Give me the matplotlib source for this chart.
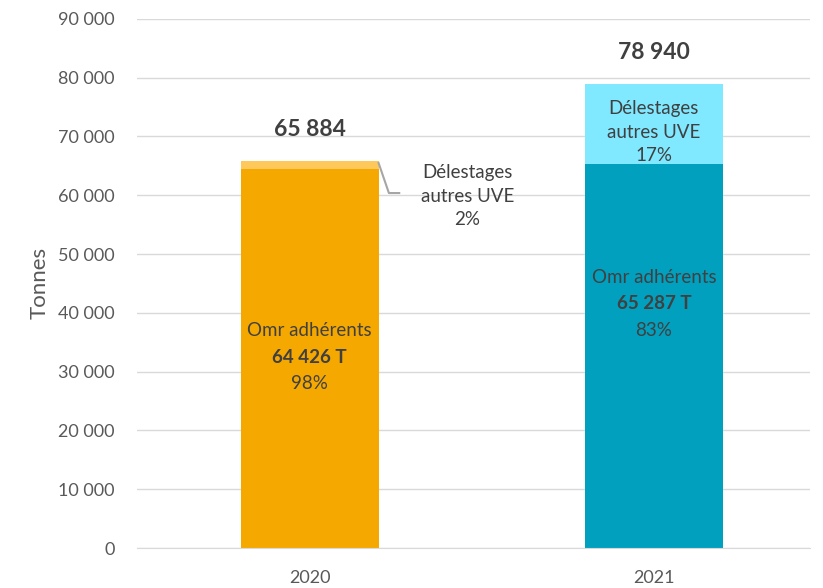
import matplotlib.pyplot as plt
import numpy as np

plt.rcParams["font.family"] = ["Lato", "DejaVu Sans"]

years = ["2020", "2021"]
omr = [64426, 65287]
delestages = [1458, 13653]
totals = [65884, 78940]
omr_pct = ["98%", "83%"]
del_pct = ["2%", "17%"]
yticks = [0, 10000, 20000, 30000, 40000, 50000, 60000, 70000, 80000, 90000]

base_colors = ["#F5A800", "#00A0BE"]
top_colors = ["#FFC85A", "#80E8FF"]
text_color = "#404040"

fig = plt.figure(figsize=(8.23, 5.88), dpi=100)
ax = fig.add_axes([0.166, 0.068, 0.818, 0.9])

x = np.arange(len(years))
w = 0.40
ax.bar(x, omr, width=w, color=base_colors, zorder=2)
ax.bar(x, delestages, bottom=omr, width=w, color=top_colors, zorder=2)

ax.set_ylim(0, 90000)
ax.set_xlim(-0.503, 1.453)
ax.set_yticks(yticks)
ax.set_yticklabels([f"{v:,}".replace(",", " ") for v in yticks])
ax.set_xticks(x)
ax.set_xticklabels(years)
ax.tick_params(axis="both", length=0, labelsize=13, colors="#595959")
ax.tick_params(axis="y", pad=16)
ax.tick_params(axis="x", pad=16)
ax.grid(axis="y", color="#D9D9D9", lw=1, zorder=0)
for s in ["top", "right", "left"]:
    ax.spines[s].set_visible(False)
ax.spines["bottom"].set_color("#D9D9D9")
ax.set_ylabel("Tonnes", fontsize=16, color="#595959", labelpad=6)

for i in range(len(years)):
    ax.text(x[i], totals[i] + 5300, f"{totals[i]:,}".replace(",", " "),
            ha="center", va="center", fontsize=16.5, fontweight="bold", color=text_color)

# Omr labels
omr_y = [32480, 41500]
for i in range(len(years)):
    yc = omr_y[i]
    ax.text(x[i], yc + 4500, "Omr adhérents", ha="center", va="center",
            fontsize=13.5, color=text_color)
    ax.text(x[i], yc, f"{omr[i]:,} T".replace(",", " "), ha="center", va="center",
            fontsize=13.5, fontweight="bold", color=text_color)
    ax.text(x[i], yc - 4500, omr_pct[i], ha="center", va="center",
            fontsize=13.5, color=text_color)

# Délestages 2020 with leader line
ax.plot([x[0] + w / 2, x[0] + w / 2 + 0.03, x[0] + w / 2 + 0.06],
        [totals[0] - 400, 60370, 60370], color="#A6A6A6", lw=1.5, zorder=3)
ax.text(x[0] + 0.458, 59860, "Délestages\nautres UVE\n" + del_pct[0], ha="center",
        va="center", fontsize=13.5, color=text_color, linespacing=1.45)

# Délestages 2021 inside
ax.text(x[1], 70750, "Délestages\nautres UVE\n" + del_pct[1], ha="center",
        va="center", fontsize=13.5, color=text_color, linespacing=1.45)

fig.savefig("out.png", dpi=100)
